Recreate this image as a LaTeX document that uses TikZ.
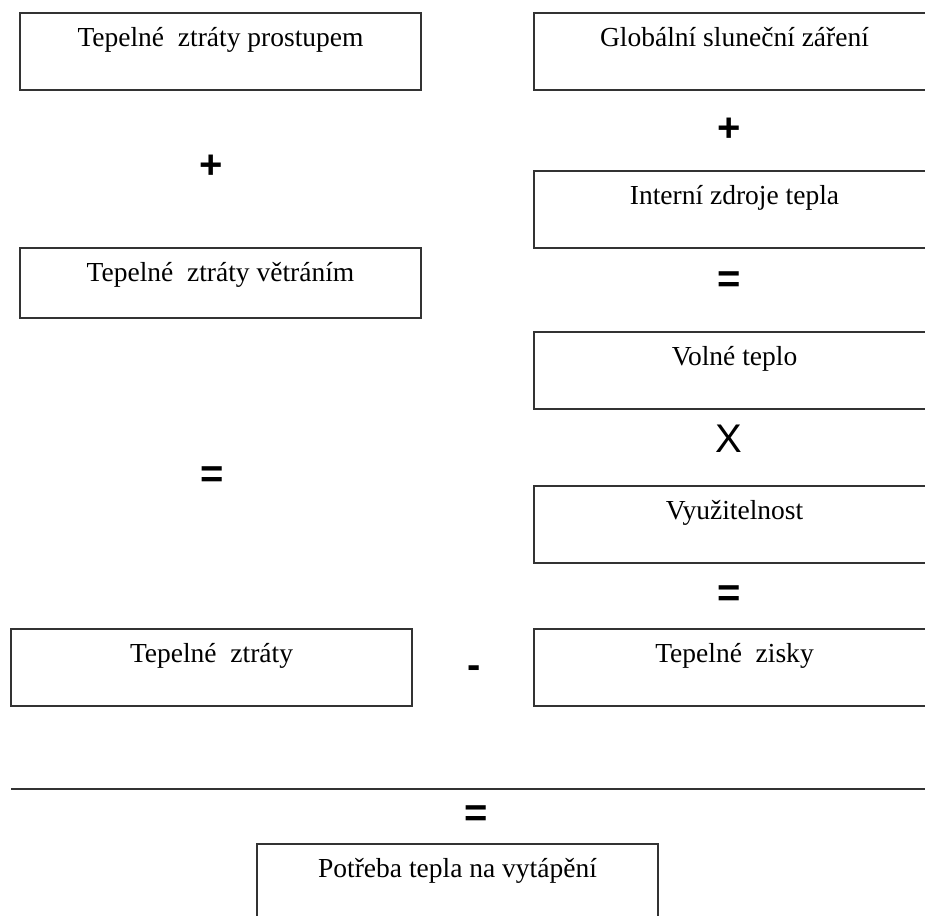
\documentclass[tikz,border=0pt]{standalone}
\usepackage{fontspec}
\setmainfont{Liberation Serif}
\newfontfamily\opfont{Liberation Sans}
\usetikzlibrary{positioning}

\begin{document}
\begin{tikzpicture}[
      x=1pt, y=-1pt,
      box/.style={draw=black!80, line width=1.6pt, minimum width=401pt, inner xsep=0pt, inner ysep=0pt,
                  text height=34pt, text depth=43pt, anchor=north, font=\fontsize{27.5}{30}\selectfont},
      op/.style={anchor=base, inner sep=0pt, font=\opfont\bfseries\fontsize{40}{44}\selectfont}
    ]
    \clip (0,0) rectangle (925,915);

    % left column
    \node[box] (prost) at (220.5,12) {Tepelné~ ztráty prostupem};
    \node[op] (plusL) at (211,178) {+};
    \node[box, text depth=36pt] (vetr) at (220.5,247) {Tepelné~ ztráty větráním};
    \node[op] (eqL) at (212,487) {=};
    \node[box] (ztraty) at (211.5,628) {Tepelné~ ztráty};

    % right column
    \node[box] (glob) at (734.5,12) {Globální sluneční záření};
    \node[op] (plusR) at (729,141) {+};
    \node[box] (intern) at (734.5,170) {Interní zdroje tepla};
    \node[op] (eqR) at (729,292) {=};
    \node[box] (volne) at (734.5,331) {Volné teplo};
    \node[op, font=\opfont\fontsize{40}{44}\selectfont] (krat) at (729,452) {X};
    \node[box] (vyuz) at (734.5,485) {Využitelnost};
    \node[op] (eqZ) at (729,606) {=};
    \node[box] (zisky) at (734.5,628) {Tepelné~ zisky};

    \node[op] (minus) at (474,678) {-};

    % result
    \coordinate (zlomL) at (11,789);
    \coordinate (zlomR) at (925,789);
    \draw[black!80, line width=1.6pt] (zlomL) -- (zlomR);
    \node[op] (eqB) at (476,826) {=};
    \node[box] (potreba) at (457.5,843) {Potřeba tepla na vytápění};
\end{tikzpicture}
\end{document}
